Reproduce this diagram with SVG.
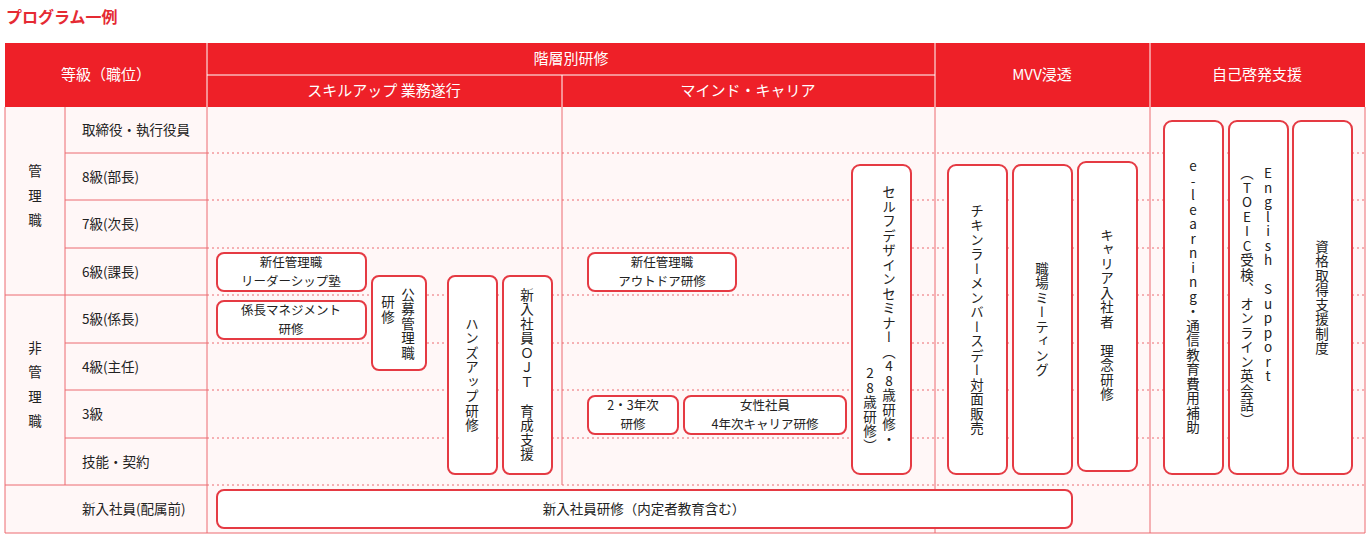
<svg xmlns="http://www.w3.org/2000/svg" width="1368" height="539" viewBox="0 0 1368 539">
<style>
text{font-family:"Noto Sans CJK JP","Noto Sans",sans-serif;font-size:13.5px;fill:#222}
.h{fill:#fff;font-size:15px;text-anchor:middle}
.c{text-anchor:middle}
.t{text-anchor:middle;font-size:12.5px}
.v{writing-mode:vertical-rl;text-orientation:upright;text-anchor:middle;letter-spacing:1px}
.b{fill:#fff;stroke:#e53a43;stroke-width:2}
.g{stroke:#ec6a70;stroke-width:1;fill:none}
.d{stroke:#ec6a70;stroke-width:1;stroke-dasharray:2 3;fill:none}
</style>
<rect width="1368" height="539" fill="#fff"/>
<text x="6" y="23" style="fill:#e52a33;font-weight:bold;font-size:16px">プログラム一例</text>
<rect x="5" y="107" width="1360" height="426" fill="#fff7f7"/>
<rect x="5" y="43" width="1360" height="64" fill="#ee2028"/>
<g stroke="#fff" stroke-width="1">
<line x1="207" y1="75" x2="935" y2="75"/>
<line x1="207" y1="43" x2="207" y2="107"/><line x1="935" y1="43" x2="935" y2="107"/>
<line x1="1150" y1="43" x2="1150" y2="107"/><line x1="562" y1="75" x2="562" y2="107"/>
</g>
<text class="h" x="106" y="80">等級（職位）</text>
<text class="h" x="571" y="64">階層別研修</text>
<text class="h" x="384" y="96">スキルアップ 業務遂行</text>
<text class="h" x="748" y="96">マインド・キャリア</text>
<text class="h" x="1042" y="80">MVV浸透</text>
<text class="h" x="1257" y="80">自己啓発支援</text>
<g id="grid">
<path class="d" d="M207 153H1365M207 200H1365M207 248H1365M207 295H1365M207 343H1365M207 390H1365M207 438H1365M207 485H1365"/>
<path class="g" d="M65 153H207M65 200H207M65 248H207M5 295H207M65 343H207M65 390H207M65 438H207M5 485H207"/>
<path class="g" d="M5 107V533M65 107V485M207 107V533M562 107V485M935 107V533M1150 107V533M1365 107V533M5 533H1365"/>
</g>
<g id="rows">
<text x="82" y="135">取締役・執行役員</text>
<text x="82" y="182">8級(部長)</text>
<text x="82" y="229">7級(次長)</text>
<text x="82" y="277">6級(課長)</text>
<text x="82" y="324">5級(係長)</text>
<text x="82" y="372">4級(主任)</text>
<text x="82" y="419">3級</text>
<text x="82" y="467">技能・契約</text>
<text x="82" y="514">新入社員(配属前)</text>
<text class="v" x="35" y="201" style="letter-spacing:11px">管理職</text>
<text class="v" x="35" y="390" style="letter-spacing:11px">非管理職</text>
</g>
<g id="n1"><rect class="b" x="217" y="253" width="149" height="38" rx="7"/><text class="t" x="291" y="267">新任管理職</text><text class="t" x="291" y="286">リーダーシップ塾</text></g>
<g id="n2"><rect class="b" x="217" y="301" width="149" height="38" rx="7"/><text class="t" x="291" y="315">係長マネジメント</text><text class="t" x="291" y="334">研修</text></g>
<g id="n3"><rect class="b" x="372" y="276" width="54" height="94" rx="7"/><text class="v" x="408" y="324">公募管理職</text><text class="v" x="388" y="310">研修</text></g>
<g id="n4"><rect class="b" x="448" y="276" width="49" height="198" rx="7"/><text class="v" x="472" y="375">ハンズアップ研修</text></g>
<g id="n5"><rect class="b" x="503" y="276" width="49" height="198" rx="7"/><text class="v" x="527" y="375">新入社員ＯＪＴ　育成支援</text></g>
<g id="n6"><rect class="b" x="588" y="253" width="148" height="38" rx="7"/><text class="t" x="662" y="267">新任管理職</text><text class="t" x="662" y="286">アウトドア研修</text></g>
<g id="n7"><rect class="b" x="588" y="396" width="90" height="38" rx="7"/><text class="t" x="633" y="410">2・3年次</text><text class="t" x="633" y="429">研修</text></g>
<g id="n8"><rect class="b" x="684" y="396" width="162" height="38" rx="7"/><text class="t" x="765" y="410">女性社員</text><text class="t" x="765" y="429">4年次キャリア研修</text></g>
<g id="n9"><rect class="b" x="852" y="165" width="59" height="309" rx="8"/><text class="v" x="889" y="316">セルフデザインセミナー（48歳研修・</text><text class="v" x="870" y="410">28歳研修）</text></g>
<g id="n10"><rect class="b" x="948" y="165" width="59" height="309" rx="8"/><text class="v" x="977" y="320">チキンラーメンバースデー対面販売</text></g>
<g id="n11"><rect class="b" x="1013" y="165" width="59" height="309" rx="8"/><text class="v" x="1042" y="320">職場ミーティング</text></g>
<g id="n12"><rect class="b" x="1078" y="162" width="59" height="309" rx="8"/><text class="v" x="1107" y="315">キャリア入社者　理念研修</text></g>
<g id="n13"><rect class="b" x="1164" y="121" width="59" height="353" rx="8"/><text class="v" x="1193" y="297">e-learning・通信教育費用補助</text></g>
<g id="n14"><rect class="b" x="1229" y="121" width="59" height="353" rx="8"/><text class="v" x="1268" y="275">English Support</text><text class="v" x="1247" y="297">（TOEIC受検、オンライン英会話）</text></g>
<g id="n15"><rect class="b" x="1293" y="121" width="59" height="353" rx="8"/><text class="v" x="1322" y="298">資格取得支援制度</text></g>
<g id="n16"><rect class="b" x="217" y="490" width="855" height="38" rx="7"/><text class="c" x="644" y="514">新入社員研修（内定者教育含む）</text></g>
</svg>
